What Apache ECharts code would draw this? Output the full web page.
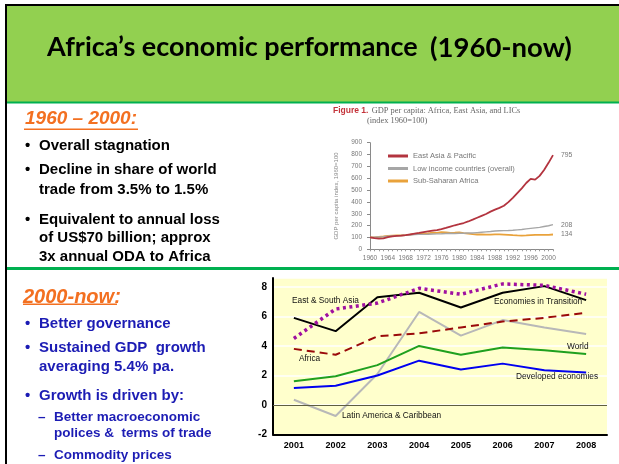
<!DOCTYPE html>
<html><head><meta charset="utf-8">
<script src="https://cdn.jsdelivr.net/npm/echarts@6/dist/echarts.min.js"></script>
<style>html,body{margin:0;padding:0;background:#fff;}#c{width:619px;height:464px;}</style>
</head><body><div id="c"></div>
<script>
// ---- Figure 1 (top): GDP per capita index, 1960=100 ----
const gdpYears = ['1960','1961','1962','1963','1964','1965','1966','1967','1968','1969',
  '1970','1971','1972','1973','1974','1975','1976','1977','1978','1979',
  '1980','1981','1982','1983','1984','1985','1986','1987','1988','1989',
  '1990','1991','1992','1993','1994','1995','1996','1997','1998','1999',
  '2000','2001'];
const eastAsiaPacific = [100,94,90,93,103,110,114,116,120,126,132,138,145,152,157,162,170,180,192,203,
  212,222,235,250,266,282,298,318,335,350,368,398,435,475,515,560,595,588,620,670,730,795];
const lowIncome = [100,102,104,106,110,113,114,116,118,121,125,126,126,127,129,130,131,133,135,134,
  135,136,137,138,141,144,147,150,154,156,158,159,161,164,167,172,177,181,185,192,199,208];
const subSaharan = [100,101,104,108,113,116,117,117,119,124,130,132,133,135,140,139,144,143,139,140,
  142,137,133,128,125,125,124,124,126,126,124,122,119,117,116,117,120,121,121,121,122,125];
const figSeriesNames = ['East Asia & Pacific','Low income countries (overall)','Sub-Saharan Africa'];
const figEndLabels = ['795','208','134'];

// ---- Bottom chart: GDP growth 2001-2008 (%) ----
const growthYears = ['2001','2002','2003','2004','2005','2006','2007','2008'];
const transition = [5.9, 5.0, 7.3, 7.6, 6.6, 7.6, 8.05, 7.1];
const eastSouthAsia = [4.5, 6.5, 6.9, 7.9, 7.5, 8.2, 8.1, 7.5];
const africa = [3.8, 3.4, 4.65, 4.85, 5.25, 5.65, 5.9, 6.25];
const latinAmerica = [0.35, -0.75, 2.1, 6.3, 4.7, 5.75, 5.25, 4.8];
const world = [1.6, 1.95, 2.7, 4.0, 3.4, 3.9, 3.7, 3.45];
const developed = [1.15, 1.3, 2.0, 3.0, 2.4, 2.8, 2.35, 2.2];

const AR = '"Liberation Sans", Arial, sans-serif';
const NAR = '"Liberation Sans Narrow", "Liberation Sans", Arial, sans-serif';
const SER = '"Liberation Serif", "DejaVu Serif", serif';

function txt(x, y, s, font, fill, align) {
  return {type:'text', x:x, y:y, z:10, silent:true,
    style:{text:s, font:font, fill:fill, verticalAlign:'middle', align:align||'left'}};
}
function rect(x, y, w, h, fill, z) {
  return {type:'rect', silent:true, z:z||1, shape:{x:x, y:y, width:w, height:h}, style:{fill:fill}};
}

const BLK = 'bold 15px ' + AR;
const BLU = '#1C1CB4';
const ORG = '#F37021';
const ANN = '8.3px ' + AR;
const graphics = [
  rect(5, 4, 614, 98, '#92D050', 1),
  rect(5, 4, 614, 2, '#000', 2),
  rect(5, 4, 2, 460, '#000', 2),
  rect(7, 101.5, 612, 2, '#00B050', 2),
  rect(7, 267, 612, 3, '#00B050', 2),
  txt(47, 47, 'Africa’s economic performance', 'bold 27px Lato, "Open Sans", sans-serif', '#000'),
  txt(430, 48, '(1960-now)', 'bold 27.5px Lato, "Open Sans", sans-serif', '#000'),
  // top-left text
  txt(25, 119, '1960 – 2000:', 'italic bold 19px ' + AR, ORG),
  rect(24, 128.5, 114, 1.5, ORG, 3),
  txt(25, 146, '•', BLK, '#000'), txt(39, 146, 'Overall stagnation', BLK, '#000'),
  txt(25, 170, '•', BLK, '#000'), txt(39, 170, 'Decline in share of world', BLK, '#000'),
  txt(39, 189.5, 'trade from 3.5% to 1.5%', BLK, '#000'),
  txt(25, 219.5, '•', BLK, '#000'), txt(39, 219.5, 'Equivalent to annual loss', BLK, '#000'),
  txt(39, 238, 'of US$70 billion; approx', BLK, '#000'),
  txt(39, 257, '3x annual ODA to Africa', BLK, '#000'),
  // bottom-left text
  txt(23, 297, '2000-now:', 'italic bold 20px ' + AR, ORG),
  rect(23, 303.5, 94, 1.5, ORG, 3),
  txt(25, 323.5, '•', BLK, BLU), txt(39, 323.5, 'Better governance', BLK, BLU),
  txt(25, 347.5, '•', BLK, BLU), txt(39, 347.5, 'Sustained GDP  growth', BLK, BLU),
  txt(39, 367, 'averaging 5.4% pa.', BLK, BLU),
  txt(25, 396, '•', BLK, BLU), txt(39, 396, 'Growth is driven by:', BLK, BLU),
  txt(38, 417, '–', 'bold 13.5px ' + AR, BLU), txt(54, 417, 'Better macroeconomic', 'bold 13.5px ' + AR, BLU),
  txt(54, 433.5, 'polices &  terms of trade', 'bold 13.5px ' + AR, BLU),
  txt(38, 455, '–', 'bold 13.5px ' + AR, BLU), txt(54, 455, 'Commodity prices', 'bold 13.5px ' + AR, BLU),
  // figure 1 title
  {type:'text', x:333, y:111, z:10, silent:true, style:{
    text:'{r|Figure 1.} {g|GDP per capita: Africa, East Asia, and LICs}',
    verticalAlign:'middle',
    rich:{r:{font:'bold 8.5px ' + NAR, fill:'#C4333A'}, g:{font:'8.4px ' + SER, fill:'#666'}}}},
  txt(367, 120.5, '(index 1960=100)', '8.4px ' + SER, '#666'),
  // bottom chart annotations
  txt(292, 301, 'East & South Asia', ANN, '#111'),
  txt(494, 302, 'Economies in Transition', ANN, '#111'),
  txt(567, 347, 'World', ANN, '#111'),
  txt(299, 359, 'Africa', ANN, '#111'),
  txt(516, 377, 'Developed economies', ANN, '#111'),
  txt(342, 416, 'Latin America & Caribbean', ANN, '#111')
];

const figColors = ['#B3343F', '#A6A6A6', '#E9A23B'];
const figData = [eastAsiaPacific, lowIncome, subSaharan];
const figSeries = figData.map(function (d, i) {
  return {
    name: figSeriesNames[i], type:'line', xAxisIndex:0, yAxisIndex:0, data:d,
    symbol:'none', smooth:false, lineStyle:{color:figColors[i], width: i===1 ? 1.4 : 1.8},
    itemStyle:{color:figColors[i]}, z: 3 - i,
    endLabel:{show:true, formatter: figEndLabels[i], fontSize:6.8, color:'#777', distance:8, fontFamily:NAR}
  };
});

function gl(name, data, color, width, type, z) {
  return {name:name, type:'line', xAxisIndex:1, yAxisIndex:1, data:data, symbol:'none',
    lineStyle:{color:color, width:width, type:type, cap:'butt'}, itemStyle:{color:color}, z:z};
}
const growthSeries = [
  gl('Latin America & Caribbean', latinAmerica, '#B8B8B8', 2, 'solid', 3),
  gl('Developed economies', developed, '#0000F0', 2, 'solid', 4),
  gl('World', world, '#1FA01F', 2, 'solid', 4),
  gl('Africa', africa, '#9A0A0A', 2, [8, 5], 5),
  gl('Economies in Transition', transition, '#000000', 2, 'solid', 6),
  gl('East & South Asia', eastSouthAsia, '#A010A0', 3.5, [3, 3.5], 7)
];
growthSeries[1].markLine = {silent:true, symbol:'none', label:{show:false},
  lineStyle:{color:'#5E5E40', width:1, type:'solid'}, data:[{yAxis:0}]};

const option = {
  animation:false,
  backgroundColor:'#fff',
  graphic: graphics,
  legend: {data: figSeriesNames, orient:'vertical', left:383, top:147, itemWidth:20, itemHeight:3,
    itemGap:4.5, icon:'rect', textStyle:{fontSize:7.5, color:'#777', fontFamily:NAR}},
  grid: [
    {left:370, right:66, top:142.7, bottom:214.7, containLabel:false},
    {left:273, right:12, top:278, bottom:29.5, show:true, backgroundColor:'#FFFFCC', borderWidth:0}
  ],
  xAxis: [
    {type:'category', gridIndex:0, data:gdpYears, boundaryGap:false,
      axisLine:{lineStyle:{color:'#8a8a8a', width:1}},
      axisTick:{show:true, interval:0, length:2, lineStyle:{color:'#999'}},
      axisLabel:{interval:3, fontSize:6.5, color:'#777', margin:5, fontFamily:NAR}},
    {type:'category', gridIndex:1, data:growthYears, boundaryGap:true,
      axisLine:{onZero:false, lineStyle:{color:'#000', width:2}},
      axisTick:{show:false},
      axisLabel:{fontSize:9, fontWeight:'bold', color:'#000', margin:7, fontFamily:AR}}
  ],
  yAxis: [
    {type:'value', gridIndex:0, min:0, max:900, interval:100,
      name:'GDP per capita index, 1960=100', nameLocation:'middle', nameGap:31, nameRotate:90,
      nameTextStyle:{fontSize:6, color:'#888', fontFamily:NAR},
      axisLine:{show:true, lineStyle:{color:'#8a8a8a'}},
      axisTick:{show:true, length:3, lineStyle:{color:'#8a8a8a'}},
      splitLine:{show:false},
      axisLabel:{fontSize:6.5, color:'#777', margin:8, fontFamily:NAR}},
    {type:'value', gridIndex:1, min:-2, max:8.6, interval:2,
      axisLine:{show:true, lineStyle:{color:'#000', width:2}},
      axisTick:{show:false},
      splitLine:{show:true, lineStyle:{color:'#ffffff', width:1.5}},
      axisLabel:{fontSize:10, fontWeight:'bold', color:'#000', margin:6, showMaxLabel:false, fontFamily:AR}}
  ],
  series: figSeries.concat(growthSeries)
};
const chart = echarts.init(document.getElementById('c'), null, {renderer:'canvas'});
chart.setOption(option);
</script>
</body></html>
